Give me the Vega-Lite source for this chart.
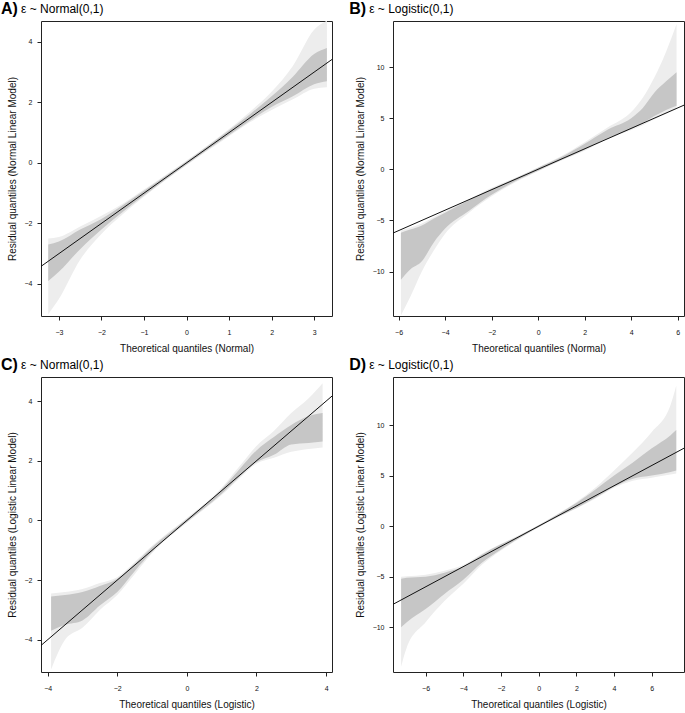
{
  "$schema": "https://vega.github.io/schema/vega-lite/v6.json",
  "padding": {"left": 0, "top": 0, "right": 0, "bottom": 0},
  "background": "white",
  "columns": 2,
  "bounds": "flush",
  "spacing": {"row": 61, "column": 61},
  "datasets": {
    "band": [
      {"p": "A", "x": -3.25, "ol": -5.0, "oh": -2.5, "il": -3.9, "ih": -2.7},
      {"p": "A", "x": -3.0, "ol": -4.5, "oh": -2.45, "il": -3.6, "ih": -2.6},
      {"p": "A", "x": -2.5, "ol": -3.2, "oh": -2.1, "il": -2.85, "ih": -2.2},
      {"p": "A", "x": -2.0, "ol": -2.35, "oh": -1.75, "il": -2.2, "ih": -1.85},
      {"p": "A", "x": -1.5, "ol": -1.7, "oh": -1.35, "il": -1.62, "ih": -1.4},
      {"p": "A", "x": -1.0, "ol": -1.12, "oh": -0.88, "il": -1.08, "ih": -0.92},
      {"p": "A", "x": 0.0, "ol": -0.08, "oh": 0.08, "il": -0.05, "ih": 0.05},
      {"p": "A", "x": 1.0, "ol": 0.88, "oh": 1.12, "il": 0.92, "ih": 1.08},
      {"p": "A", "x": 1.5, "ol": 1.35, "oh": 1.7, "il": 1.4, "ih": 1.62},
      {"p": "A", "x": 2.0, "ol": 1.75, "oh": 2.35, "il": 1.85, "ih": 2.2},
      {"p": "A", "x": 2.5, "ol": 2.1, "oh": 3.2, "il": 2.2, "ih": 2.85},
      {"p": "A", "x": 3.0, "ol": 2.45, "oh": 4.4, "il": 2.6, "ih": 3.6},
      {"p": "A", "x": 3.3, "ol": 2.5, "oh": 4.7, "il": 2.7, "ih": 3.8},

      {"p": "B", "x": -5.9, "ol": -14.3, "oh": -6.0, "il": -10.8, "ih": -6.2},
      {"p": "B", "x": -5.5, "ol": -12.5, "oh": -5.7, "il": -9.8, "ih": -5.9},
      {"p": "B", "x": -5.0, "ol": -10.0, "oh": -5.3, "il": -9.0, "ih": -5.5},
      {"p": "B", "x": -4.5, "ol": -8.0, "oh": -4.7, "il": -7.2, "ih": -4.85},
      {"p": "B", "x": -4.0, "ol": -6.3, "oh": -4.1, "il": -5.8, "ih": -4.25},
      {"p": "B", "x": -3.0, "ol": -4.3, "oh": -2.95, "il": -4.1, "ih": -3.05},
      {"p": "B", "x": -2.0, "ol": -2.65, "oh": -1.8, "il": -2.5, "ih": -1.9},
      {"p": "B", "x": -1.0, "ol": -1.3, "oh": -0.85, "il": -1.2, "ih": -0.9},
      {"p": "B", "x": 0.0, "ol": -0.2, "oh": 0.2, "il": -0.15, "ih": 0.15},
      {"p": "B", "x": 1.0, "ol": 0.85, "oh": 1.3, "il": 0.9, "ih": 1.2},
      {"p": "B", "x": 2.0, "ol": 1.8, "oh": 2.65, "il": 1.9, "ih": 2.5},
      {"p": "B", "x": 3.0, "ol": 2.95, "oh": 4.1, "il": 3.05, "ih": 3.9},
      {"p": "B", "x": 4.0, "ol": 3.85, "oh": 5.6, "il": 3.95, "ih": 5.0},
      {"p": "B", "x": 4.5, "ol": 4.3, "oh": 7.0, "il": 4.5, "ih": 6.0},
      {"p": "B", "x": 5.0, "ol": 4.9, "oh": 9.0, "il": 5.2, "ih": 7.5},
      {"p": "B", "x": 5.5, "ol": 5.4, "oh": 11.5, "il": 5.8, "ih": 8.6},
      {"p": "B", "x": 5.95, "ol": 5.9, "oh": 14.2, "il": 6.2, "ih": 9.5},

      {"p": "C", "x": -3.9, "ol": -5.0, "oh": -2.45, "il": -3.7, "ih": -2.55},
      {"p": "C", "x": -3.5, "ol": -4.0, "oh": -2.4, "il": -3.5, "ih": -2.5},
      {"p": "C", "x": -3.0, "ol": -3.6, "oh": -2.3, "il": -3.35, "ih": -2.4},
      {"p": "C", "x": -2.5, "ol": -3.0, "oh": -2.1, "il": -2.85, "ih": -2.2},
      {"p": "C", "x": -2.0, "ol": -2.5, "oh": -1.9, "il": -2.4, "ih": -1.95},
      {"p": "C", "x": -1.5, "ol": -1.8, "oh": -1.4, "il": -1.7, "ih": -1.45},
      {"p": "C", "x": -1.0, "ol": -1.1, "oh": -0.85, "il": -1.05, "ih": -0.9},
      {"p": "C", "x": 0.0, "ol": -0.08, "oh": 0.08, "il": -0.05, "ih": 0.05},
      {"p": "C", "x": 1.0, "ol": 0.85, "oh": 1.1, "il": 0.9, "ih": 1.05},
      {"p": "C", "x": 1.5, "ol": 1.4, "oh": 1.8, "il": 1.45, "ih": 1.7},
      {"p": "C", "x": 2.0, "ol": 1.9, "oh": 2.5, "il": 1.95, "ih": 2.35},
      {"p": "C", "x": 2.5, "ol": 2.1, "oh": 3.0, "il": 2.2, "ih": 2.8},
      {"p": "C", "x": 3.0, "ol": 2.3, "oh": 3.6, "il": 2.55, "ih": 3.2},
      {"p": "C", "x": 3.5, "ol": 2.4, "oh": 4.1, "il": 2.6, "ih": 3.5},
      {"p": "C", "x": 3.9, "ol": 2.45, "oh": 4.6, "il": 2.65, "ih": 3.6},

      {"p": "D", "x": -7.3, "ol": -13.9, "oh": -5.0, "il": -10.0, "ih": -5.2},
      {"p": "D", "x": -7.0, "ol": -12.0, "oh": -4.95, "il": -9.5, "ih": -5.1},
      {"p": "D", "x": -6.0, "ol": -9.5, "oh": -4.8, "il": -8.2, "ih": -5.0},
      {"p": "D", "x": -5.0, "ol": -7.4, "oh": -4.4, "il": -6.7, "ih": -4.6},
      {"p": "D", "x": -4.0, "ol": -5.7, "oh": -3.85, "il": -5.3, "ih": -4.0},
      {"p": "D", "x": -3.0, "ol": -3.8, "oh": -2.7, "il": -3.6, "ih": -2.8},
      {"p": "D", "x": -2.0, "ol": -2.4, "oh": -1.75, "il": -2.3, "ih": -1.8},
      {"p": "D", "x": -1.0, "ol": -1.2, "oh": -0.85, "il": -1.15, "ih": -0.9},
      {"p": "D", "x": 0.0, "ol": -0.12, "oh": 0.12, "il": -0.08, "ih": 0.08},
      {"p": "D", "x": 1.0, "ol": 0.85, "oh": 1.2, "il": 0.9, "ih": 1.15},
      {"p": "D", "x": 2.0, "ol": 1.75, "oh": 2.4, "il": 1.8, "ih": 2.3},
      {"p": "D", "x": 3.0, "ol": 2.7, "oh": 3.8, "il": 2.8, "ih": 3.6},
      {"p": "D", "x": 4.0, "ol": 3.8, "oh": 5.5, "il": 3.9, "ih": 5.0},
      {"p": "D", "x": 5.0, "ol": 4.5, "oh": 7.3, "il": 4.7, "ih": 6.3},
      {"p": "D", "x": 6.0, "ol": 4.8, "oh": 9.3, "il": 5.0, "ih": 7.7},
      {"p": "D", "x": 7.0, "ol": 5.1, "oh": 12.0, "il": 5.35, "ih": 9.0},
      {"p": "D", "x": 7.3, "ol": 5.2, "oh": 13.9, "il": 5.5, "ih": 9.5}
    ],
    "ref": [
      {"p": "A", "x": -3.42}, {"p": "A", "x": 3.42},
      {"p": "B", "x": -6.24}, {"p": "B", "x": 6.27},
      {"p": "C", "x": -4.19}, {"p": "C", "x": 4.17},
      {"p": "D", "x": -7.73}, {"p": "D", "x": 7.71}
    ]
  },
  "concat": [
    {
      "width": 291, "height": 295,
      "title": {"text": "A)", "subtitle": "\u200b\u00a0\u00a0\u00a0\u00a0\u00a0\u00a0ε ~ Normal(0,1)"},
      "layer": [
        {"data": {"name": "band"}, "transform": [{"filter": "datum.p === 'A'"}],
         "mark": {"type": "area", "color": "#ededed", "interpolate": "monotone", "clip": true},
         "encoding": {
           "x": {"field": "x", "type": "quantitative", "title": "Theoretical quantiles (Normal)", "scale": {"domain": [-3.42, 3.42], "nice": false, "zero": false}, "axis": {"values": [-3, -2, -1, 0, 1, 2, 3]}},
           "y": {"field": "ol", "type": "quantitative", "title": "Residual quantiles (Normal Linear Model)", "scale": {"domain": [-5.06, 4.69], "nice": false, "zero": false}, "axis": {"values": [-4, -2, 0, 2, 4]}},
           "y2": {"field": "oh"}}},
        {"data": {"name": "band"}, "transform": [{"filter": "datum.p === 'A'"}],
         "mark": {"type": "area", "color": "#c6c6c6", "interpolate": "monotone", "clip": true},
         "encoding": {"x": {"field": "x", "type": "quantitative"}, "y": {"field": "il", "type": "quantitative"}, "y2": {"field": "ih"}}},
        {"data": {"name": "ref"}, "transform": [{"filter": "datum.p === 'A'"}],
         "mark": {"type": "line", "color": "#111111", "strokeWidth": 1, "clip": true},
         "encoding": {"x": {"field": "x", "type": "quantitative"}, "y": {"field": "x", "type": "quantitative"}}}
      ]
    },
    {
      "width": 291, "height": 295,
      "title": {"text": "B)", "subtitle": "\u200b\u00a0\u00a0\u00a0\u00a0\u00a0\u00a0ε ~ Logistic(0,1)"},
      "layer": [
        {"data": {"name": "band"}, "transform": [{"filter": "datum.p === 'B'"}],
         "mark": {"type": "area", "color": "#ededed", "interpolate": "monotone", "clip": true},
         "encoding": {
           "x": {"field": "x", "type": "quantitative", "title": "Theoretical quantiles (Normal)", "scale": {"domain": [-6.24, 6.27], "nice": false, "zero": false}, "axis": {"values": [-6, -4, -2, 0, 2, 4, 6]}},
           "y": {"field": "ol", "type": "quantitative", "title": "Residual quantiles (Normal Linear Model)", "scale": {"domain": [-14.35, 14.5], "nice": false, "zero": false}, "axis": {"values": [-10, -5, 0, 5, 10]}},
           "y2": {"field": "oh"}}},
        {"data": {"name": "band"}, "transform": [{"filter": "datum.p === 'B'"}],
         "mark": {"type": "area", "color": "#c6c6c6", "interpolate": "monotone", "clip": true},
         "encoding": {"x": {"field": "x", "type": "quantitative"}, "y": {"field": "il", "type": "quantitative"}, "y2": {"field": "ih"}}},
        {"data": {"name": "ref"}, "transform": [{"filter": "datum.p === 'B'"}],
         "mark": {"type": "line", "color": "#111111", "strokeWidth": 1, "clip": true},
         "encoding": {"x": {"field": "x", "type": "quantitative"}, "y": {"field": "x", "type": "quantitative"}}}
      ]
    },
    {
      "width": 291, "height": 295,
      "title": {"text": "C)", "subtitle": "\u200b\u00a0\u00a0\u00a0\u00a0\u00a0\u00a0ε ~ Normal(0,1)"},
      "layer": [
        {"data": {"name": "band"}, "transform": [{"filter": "datum.p === 'C'"}],
         "mark": {"type": "area", "color": "#ededed", "interpolate": "monotone", "clip": true},
         "encoding": {
           "x": {"field": "x", "type": "quantitative", "title": "Theoretical quantiles (Logistic)", "scale": {"domain": [-4.19, 4.17], "nice": false, "zero": false}, "axis": {"values": [-4, -2, 0, 2, 4]}},
           "y": {"field": "ol", "type": "quantitative", "title": "Residual quantiles (Logistic Linear Model)", "scale": {"domain": [-5.08, 4.81], "nice": false, "zero": false}, "axis": {"values": [-4, -2, 0, 2, 4]}},
           "y2": {"field": "oh"}}},
        {"data": {"name": "band"}, "transform": [{"filter": "datum.p === 'C'"}],
         "mark": {"type": "area", "color": "#c6c6c6", "interpolate": "monotone", "clip": true},
         "encoding": {"x": {"field": "x", "type": "quantitative"}, "y": {"field": "il", "type": "quantitative"}, "y2": {"field": "ih"}}},
        {"data": {"name": "ref"}, "transform": [{"filter": "datum.p === 'C'"}],
         "mark": {"type": "line", "color": "#111111", "strokeWidth": 1, "clip": true},
         "encoding": {"x": {"field": "x", "type": "quantitative"}, "y": {"field": "x", "type": "quantitative"}}}
      ]
    },
    {
      "width": 291, "height": 295,
      "title": {"text": "D)", "subtitle": "\u200b\u00a0\u00a0\u00a0\u00a0\u00a0\u00a0ε ~ Logistic(0,1)"},
      "layer": [
        {"data": {"name": "band"}, "transform": [{"filter": "datum.p === 'D'"}],
         "mark": {"type": "area", "color": "#ededed", "interpolate": "monotone", "clip": true},
         "encoding": {
           "x": {"field": "x", "type": "quantitative", "title": "Theoretical quantiles (Logistic)", "scale": {"domain": [-7.73, 7.71], "nice": false, "zero": false}, "axis": {"values": [-6, -4, -2, 0, 2, 4, 6]}},
           "y": {"field": "ol", "type": "quantitative", "title": "Residual quantiles (Logistic Linear Model)", "scale": {"domain": [-14.42, 14.75], "nice": false, "zero": false}, "axis": {"values": [-10, -5, 0, 5, 10]}},
           "y2": {"field": "oh"}}},
        {"data": {"name": "band"}, "transform": [{"filter": "datum.p === 'D'"}],
         "mark": {"type": "area", "color": "#c6c6c6", "interpolate": "monotone", "clip": true},
         "encoding": {"x": {"field": "x", "type": "quantitative"}, "y": {"field": "il", "type": "quantitative"}, "y2": {"field": "ih"}}},
        {"data": {"name": "ref"}, "transform": [{"filter": "datum.p === 'D'"}],
         "mark": {"type": "line", "color": "#111111", "strokeWidth": 1, "clip": true},
         "encoding": {"x": {"field": "x", "type": "quantitative"}, "y": {"field": "x", "type": "quantitative"}}}
      ]
    }
  ],
  "config": {
    "font": "Liberation Sans",
    "view": {"stroke": "#222222", "strokeWidth": 1},
    "axis": {
      "grid": false, "domain": false,
      "tickColor": "#222222", "tickSize": 4,
      "labelFont": "Liberation Sans", "labelFontSize": 7, "labelColor": "#111111",
      "titleFont": "Liberation Sans", "titleFontSize": 10, "titleFontWeight": "normal", "titleColor": "#111111"
    },
    "axisX": {"labelPadding": 8, "titlePadding": 8, "labelFlush": false},
    "axisY": {"labelPadding": 5, "titlePadding": 7, "labelFlush": false},
    "title": {
      "anchor": "start", "dx": -6, "offset": 4,
      "font": "Liberation Sans", "fontSize": 16, "fontWeight": "bold", "color": "#000000",
      "subtitleFont": "Liberation Sans", "subtitleFontSize": 12, "subtitleColor": "#000000",
      "subtitlePadding": -13
    }
  }
}
